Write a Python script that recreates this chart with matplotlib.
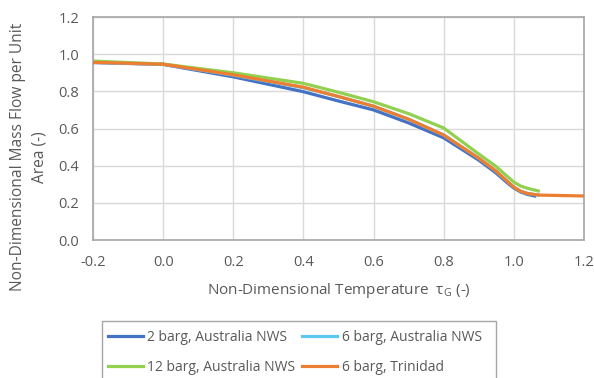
import matplotlib
matplotlib.use("Agg")
from matplotlib import pyplot as plt
from matplotlib.patches import Rectangle

tau_blue = [-0.2, 0.0, 0.2, 0.4, 0.5, 0.6, 0.7, 0.8, 0.9, 0.95, 0.98, 1.0, 1.02, 1.04, 1.06]
m_blue = [0.955, 0.945, 0.878, 0.798, 0.748, 0.700, 0.630, 0.550, 0.430, 0.360, 0.310, 0.280, 0.258, 0.245, 0.237]

tau_cyan = [-0.2, 0.0, 0.2, 0.4, 0.5, 0.6, 0.7, 0.8, 0.9, 0.95, 0.98, 1.0, 1.02, 1.04, 1.07]
m_cyan = [0.956, 0.946, 0.887, 0.820, 0.772, 0.720, 0.650, 0.565, 0.440, 0.370, 0.318, 0.285, 0.262, 0.250, 0.242]

tau_green = [-0.2, 0.0, 0.2, 0.4, 0.5, 0.6, 0.7, 0.8, 0.9, 0.95, 0.98, 1.0, 1.02, 1.04, 1.07]
m_green = [0.963, 0.947, 0.900, 0.843, 0.795, 0.744, 0.680, 0.603, 0.463, 0.395, 0.345, 0.312, 0.290, 0.278, 0.264]

tau_orange = [-0.2, 0.0, 0.2, 0.4, 0.5, 0.6, 0.7, 0.8, 0.9, 0.95, 0.98, 1.0, 1.02, 1.04, 1.07, 1.2]
m_orange = [0.956, 0.946, 0.889, 0.822, 0.772, 0.720, 0.650, 0.565, 0.440, 0.370, 0.318, 0.285, 0.262, 0.250, 0.242, 0.237]

labels = ["2 barg, Australia NWS", "6 barg, Australia NWS",
          "12 barg, Australia NWS", "6 barg, Trinidad"]
colors = ["#4472C4", "#5BC8F0", "#92D050", "#ED7D31"]

plt.rcParams['font.family'] = ['Open Sans', 'DejaVu Sans']
txt = "#595959"

fig = plt.figure(figsize=(5.94, 3.78), dpi=100)
ax = fig.add_axes([0.1566, 0.365, 0.8264, 0.590])

h0, = ax.plot(tau_blue, m_blue, color=colors[0], lw=2.3, label=labels[0], zorder=3)
h1, = ax.plot(tau_cyan, m_cyan, color=colors[1], lw=2.3, label=labels[1], zorder=3)
h2, = ax.plot(tau_green, m_green, color=colors[2], lw=2.3, label=labels[2], zorder=3)
h3, = ax.plot(tau_orange, m_orange, color=colors[3], lw=2.3, label=labels[3], zorder=4)

ax.set_xlim(-0.2, 1.2)
ax.set_ylim(0, 1.2)
ax.set_xticks([-0.2, 0.0, 0.2, 0.4, 0.6, 0.8, 1.0, 1.2])
ax.set_yticks([0.0, 0.2, 0.4, 0.6, 0.8, 1.0, 1.2])
ax.xaxis.set_major_formatter(matplotlib.ticker.FormatStrFormatter('%.1f'))
ax.yaxis.set_major_formatter(matplotlib.ticker.FormatStrFormatter('%.1f'))
ax.grid(True, color="#d9d9d9", lw=1)
ax.set_axisbelow(True)
for s in ax.spines.values():
    s.set_color("#a6a6a6")
    s.set_linewidth(1.2)
ax.tick_params(length=0, colors=txt, labelsize=10.5)
ax.tick_params(axis='x', pad=11)
ax.tick_params(axis='y', pad=10)

ax.set_xlabel("Non-Dimensional Temperature  τ$_\\mathregular{G}$ (-)", color=txt,
              fontsize=11, labelpad=8)
ax.set_ylabel("Non-Dimensional Mass Flow per Unit\nArea (-)", color=txt,
              fontsize=11.2, linespacing=1.45)
ax.yaxis.set_label_coords(-0.092, 0.372)

# legend box runs off the bottom of the image, as in the source
fig.patches.append(Rectangle((0.172, -0.1), 0.663, 0.251, transform=fig.transFigure,
                             facecolor="white", edgecolor="#a6a6a6", lw=1.0))
leg = fig.legend([h0, h2, h1, h3], [labels[0], labels[2], labels[1], labels[3]],
                 loc='upper left', bbox_to_anchor=(0.177, 0.135), ncol=2,
                 frameon=False, fontsize=10, handlelength=2.5,
                 handletextpad=0.35, columnspacing=0.5, borderaxespad=0,
                 labelspacing=1.1, borderpad=0.2)
for t in leg.get_texts():
    t.set_color(txt)

fig.savefig("out.png", dpi=100)
